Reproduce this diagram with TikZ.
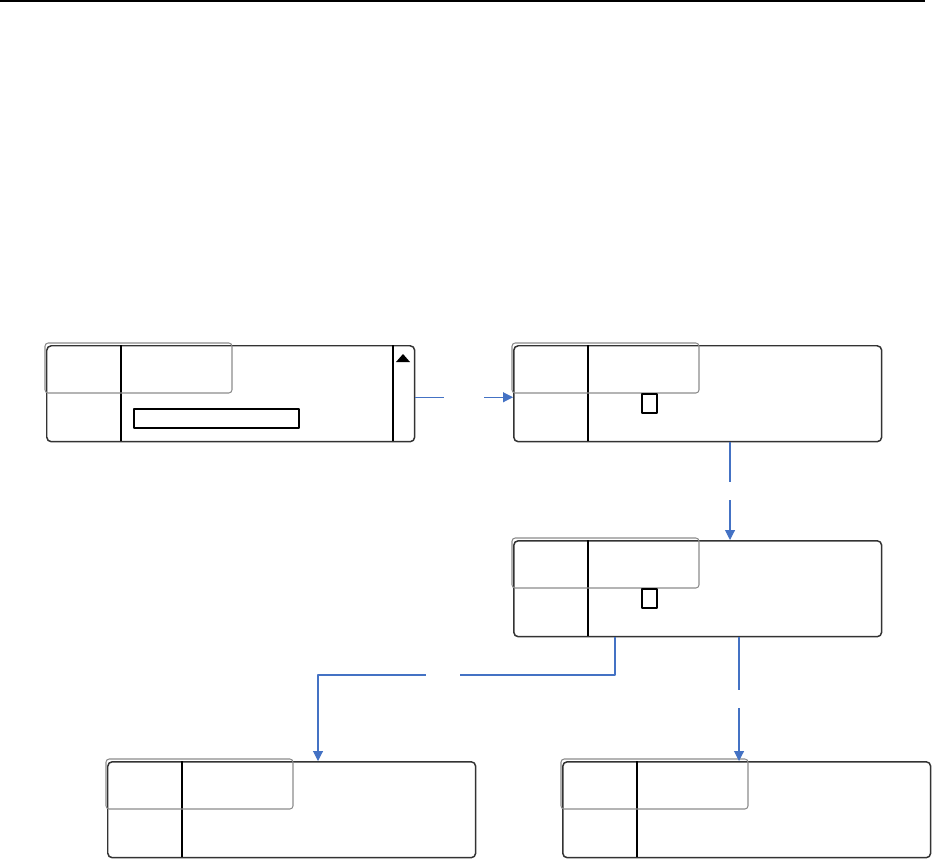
\documentclass[tikz,border=0pt]{standalone}
\usetikzlibrary{arrows.meta}
\definecolor{linkblue}{HTML}{4472C4}
\tikzset{
  panel/.style={draw=black!80, line width=0.85pt, rounded corners=2.6pt, anchor=north west,
    inner sep=0pt, minimum width=7.36cm, minimum height=1.92cm},
  divider/.style={line width=1.2pt},
  overlay/.style={draw=black!45, line width=0.6pt, rounded corners=1.8pt},
  link/.style={draw=linkblue, line width=0.6pt, -{Triangle[length=5.6pt,width=5.6pt]}},
  gap/.style={fill=white, inner sep=0pt, minimum width=0.8cm, minimum height=0.36cm}
}
% inner parts of one panel, drawn from its north west corner
\newcommand{\panelparts}[1]{%
  \begin{scope}[shift={(#1.north west)}]
    \draw[divider] (75,0) -- (75,96);
    \draw[overlay] (-1,-2) rectangle (186,48);
  \end{scope}}
\begin{document}
\begin{tikzpicture}[x=0.02cm,y=-0.02cm,line join=round]
  \useasboundingbox (0,0) rectangle (942,858);
  % rule at the top of the page
  \draw[line width=1.4pt] (0,1.2) -- (925,1.2);
  % panels
  \node[panel] (b1) at (46,345) {};
  \node[panel] (b2) at (513,345) {};
  \node[panel] (b3) at (513,540) {};
  \node[panel] (b4) at (107,761) {};
  \node[panel] (b5) at (562,761) {};
  \panelparts{b1} \panelparts{b2} \panelparts{b3} \panelparts{b4} \panelparts{b5}
  % entry field and scroll mark of the first panel
  \begin{scope}[shift={(b1.north west)}]
    \draw[divider] (347,0) -- (347,96);
    \draw[line width=0.6pt] (88,64) rectangle (253,83);
    \fill (350,17) -- (357,9) -- (364,17) -- cycle;
  \end{scope}
  % cursor boxes
  \draw[line width=0.6pt] ([shift={(129,49)}]b2.north west) rectangle ([shift={(144,68)}]b2.north west);
  \draw[line width=0.6pt] ([shift={(129,49)}]b3.north west) rectangle ([shift={(144,68)}]b3.north west);
  % connectors
  \coordinate (k2) at (730,0);
  \coordinate (k5) at (739,0);
  \coordinate (j1) at (615,675);
  \coordinate (j2) at (318,675);
  \draw[link] ([yshift=-2]b1.east) -- node[gap]{} ([yshift=-2]b2.west);
  \draw[link] (b2.south -| k2) -- node[gap]{} (b3.north -| k2);
  \draw[link] (b3.south -| j1) -- (j1) -- node[gap,pos=0.58,minimum width=0.68cm]{} (j2) -- (b4.north -| j2);
  \draw[link] (b3.south -| k5) -- node[gap]{} (b5.north -| k5);
\end{tikzpicture}
\end{document}
